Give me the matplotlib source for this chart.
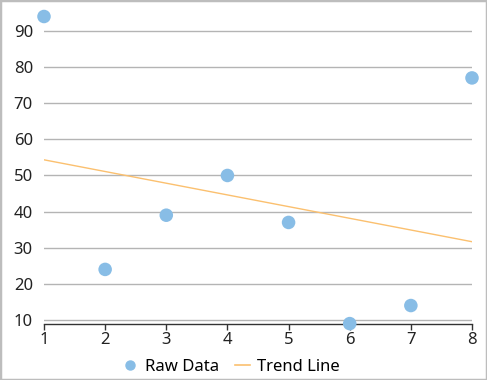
import numpy as np
import matplotlib
matplotlib.use("Agg")
import matplotlib.pyplot as plt
from matplotlib.lines import Line2D
from matplotlib.patches import Rectangle

x_vals = [1, 2, 3, 4, 5, 6, 7, 8]
y_vals = [94, 24, 39, 50, 37, 9, 14, 77]
y_ticks = [10, 20, 30, 40, 50, 60, 70, 80, 90]
series_names = ["Raw Data", "Trend Line"]

plt.rcParams['font.family'] = ['Noto Sans', 'DejaVu Sans']

W, H = 487, 380
fig = plt.figure(figsize=(W/100, H/100), dpi=100)
ax = fig.add_axes([44/W, 1 - 323.6/H, (472-44)/W, (323.6-16.5)/H])

pt_color = "#88bde6"
tr_color = "#fbc06f"

# trend line from least squares fit
coef = np.polyfit(x_vals, y_vals, 1)
xt = np.array([x_vals[0], x_vals[-1]])
ax.plot(xt, np.polyval(coef, xt), color=tr_color, lw=1, zorder=2)

ax.scatter(x_vals, y_vals, s=95, color=pt_color, edgecolors='none', zorder=3, clip_on=False)

ax.set_xlim(1, 8)
ax.set_ylim(9, 94)
ax.set_yticks(y_ticks)
ax.set_xticks(x_vals)
ax.grid(axis='y', color='#b4b4b4', lw=1)
ax.set_axisbelow(True)
for s in ['top', 'right', 'left']:
    ax.spines[s].set_visible(False)
ax.spines['bottom'].set_color('#333333')
ax.spines['bottom'].set_linewidth(1)
ax.tick_params(axis='y', length=0, pad=8, labelsize=12, colors='#222222')
ax.tick_params(axis='x', length=4, width=1, color='#333333', pad=2, labelsize=12, labelcolor='#222222')

handles = [Line2D([], [], marker='o', ls='none', color=pt_color, markersize=6.5),
           Line2D([], [], color=tr_color, lw=1.2)]
fig.legend(handles, series_names, loc='center', bbox_to_anchor=(0.475, 1 - 367/H),
           ncol=2, frameon=False, fontsize=12, handlelength=0.9, handletextpad=0.4,
           columnspacing=1.0)

fig.patches.append(Rectangle((0, 0), 1, 1, transform=fig.transFigure, fill=False,
                             edgecolor='#bdbdbd', lw=2.5))
fig.savefig("out.png", dpi=100)
